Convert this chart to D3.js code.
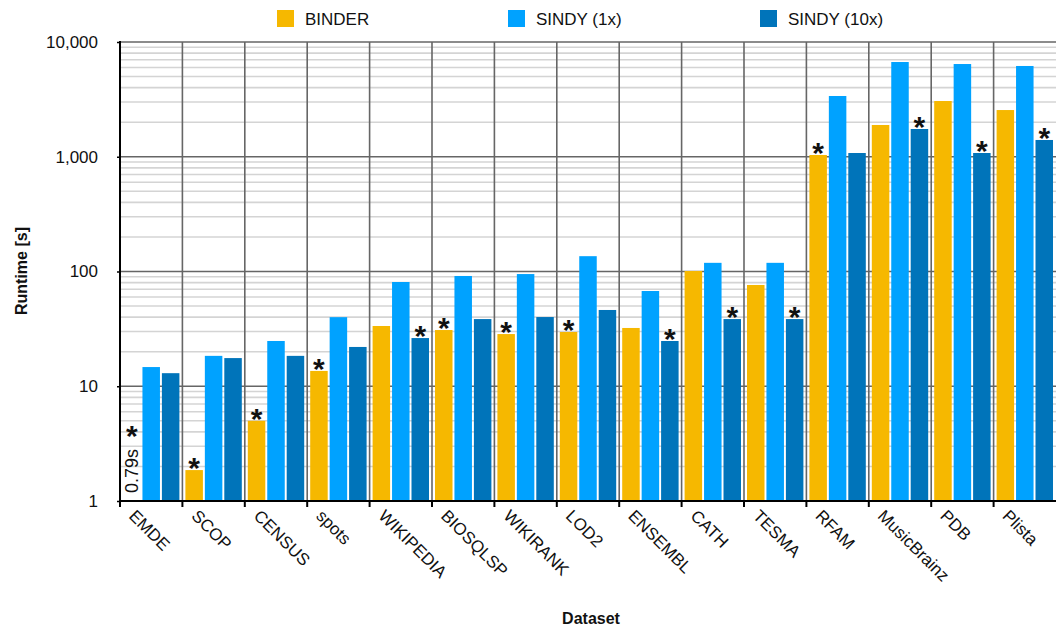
<!DOCTYPE html>
<html>
<head>
<meta charset="utf-8">
<script src="https://cdn.jsdelivr.net/npm/d3@7/dist/d3.min.js"></script>
<style>
  html, body { margin: 0; padding: 0; background: #fff; }
  svg { display: block; font-family: "Liberation Sans", Arial, Helvetica, sans-serif; }
</style>
</head>
<body>
<svg id="chart" width="1056" height="626"></svg>
<script>
// Runtime per dataset (seconds)
const categories = ["EMDE", "SCOP", "CENSUS", "spots", "WIKIPEDIA", "BIOSQLSP", "WIKIRANK",
  "LOD2", "ENSEMBL", "CATH", "TESMA", "RFAM", "MusicBrainz", "PDB", "Plista"];
const seriesNames = ["BINDER", "SINDY (1x)", "SINDY (10x)"];
const binder  = [0.79, 1.86, 5.0, 13.6, 33.5, 30.9, 28.5, 29.7, 32.2, 101, 76.3, 1036, 1891, 3060, 2553];
const sindy1  = [14.7, 18.4, 24.8, 40, 81, 91.4, 95, 136, 67.6, 119, 119, 3384, 6692, 6428, 6180];
const sindy10 = [13.0, 17.6, 18.4, 22.0, 26.3, 38.5, 40.1, 46.2, 24.8, 38.5, 38.5, 1078, 1745, 1078, 1400];
// index of the series marked with an asterisk in each group
const starred = [0, 0, 0, 0, 2, 0, 0, 0, 2, 2, 2, 0, 2, 2, 2];
const yTicks = [1, 10, 100, 1000, 10000];

const colors = ["#F6B800", "#00A2FF", "#0074BA"];
const values = [binder, sindy1, sindy10];

const svg = d3.select("#chart");
const m = { left: 120, right: 1056, top: 42, bottom: 501 };

const x = d3.scaleBand().domain(categories).range([m.left, m.right]).paddingInner(0).paddingOuter(0);
const xs = d3.scaleBand().domain(seriesNames).range([3, x.bandwidth() - 3]).paddingInner(0.1);
const y = d3.scaleLog().domain([1, 10000]).range([m.bottom, m.top]);

// minor gridlines
const minor = [];
for (let d = 1; d < 10000; d *= 10) for (let k = 2; k <= 9; k++) minor.push(d * k);
svg.append("g").selectAll("line").data(minor).join("line")
  .attr("x1", m.left).attr("x2", m.right)
  .attr("y1", d => y(d)).attr("y2", d => y(d))
  .attr("stroke", "#d4d4d4").attr("stroke-width", 1.6);

// major gridlines
svg.append("g").selectAll("line").data(yTicks.slice(1)).join("line")
  .attr("x1", m.left).attr("x2", m.right)
  .attr("y1", d => y(d)).attr("y2", d => y(d))
  .attr("stroke", "#666").attr("stroke-width", 1.6);

// vertical separators between datasets
svg.append("g").selectAll("line").data(categories.slice(1)).join("line")
  .attr("x1", d => x(d)).attr("x2", d => x(d))
  .attr("y1", m.top).attr("y2", m.bottom)
  .attr("stroke", "#666").attr("stroke-width", 1.6);

// bars
const groups = svg.append("g").selectAll("g").data(categories).join("g")
  .attr("transform", d => `translate(${x(d)},0)`);
groups.selectAll("rect")
  .data((c, i) => seriesNames.map((s, j) => ({ s, j, v: values[j][i] })))
  .join("rect")
  .attr("x", d => xs(d.s))
  .attr("width", xs.bandwidth())
  .attr("y", d => y(Math.max(d.v, 1)))
  .attr("height", d => m.bottom - y(Math.max(d.v, 1)))
  .attr("fill", d => colors[d.j]);

// asterisks; values below the axis range are written inside the plot
groups.each(function (c, i) {
  const g = d3.select(this);
  let topY;
  const j = starred[i];
  const v = values[j][i];
  const cx = xs(seriesNames[j]) + xs.bandwidth() / 2;
  if (v < 1) {
    g.append("text")
      .attr("transform", `translate(${cx + 6},${m.bottom - 8}) rotate(-90)`)
      .attr("font-size", 18).attr("fill", "#111")
      .text(v + "s");
    topY = 438;
  } else {
    topY = y(v);
  }
  g.append("text")
    .attr("x", cx).attr("y", topY + 8)
    .attr("text-anchor", "middle")
    .attr("font-size", 30).attr("font-weight", "bold").attr("fill", "#111")
    .text("*");
});

// axes
svg.append("line").attr("x1", m.left).attr("x2", m.right).attr("y1", m.bottom).attr("y2", m.bottom)
  .attr("stroke", "#000").attr("stroke-width", 2);
svg.append("line").attr("x1", m.left).attr("x2", m.left).attr("y1", m.top - 1).attr("y2", m.bottom + 1)
  .attr("stroke", "#000").attr("stroke-width", 2);

const xAxis = d3.axisBottom(x).tickSize(6).tickFormat("");
const xg = svg.append("g").attr("transform", `translate(0,${m.bottom})`).call(xAxis);
xg.select(".domain").remove();
xg.selectAll(".tick line").attr("stroke", "#000").attr("stroke-width", 2)
  .attr("transform", `translate(${-x.bandwidth() / 2},0)`);

// x labels, rotated
svg.append("g").selectAll("text").data(categories).join("text")
  .attr("transform", d => `translate(${x(d) + 8},${m.bottom + 16}) rotate(45)`)
  .attr("font-size", 17).attr("fill", "#111")
  .text(d => d);

const yAxis = d3.axisLeft(y).tickValues(yTicks).tickSize(3).tickPadding(19)
  .tickFormat(d3.format(","));
const yg = svg.append("g").attr("transform", `translate(${m.left},0)`).call(yAxis);
yg.select(".domain").remove();
yg.selectAll(".tick line").attr("stroke", "#000").attr("stroke-width", 1.5);
yg.selectAll(".tick text").attr("font-size", 17).attr("fill", "#111")
  .attr("font-family", "\"Liberation Sans\", Arial, Helvetica, sans-serif");

// axis titles
svg.append("text").attr("transform", `translate(27,271) rotate(-90)`)
  .attr("text-anchor", "middle").attr("font-size", 16).attr("font-weight", "bold").attr("fill", "#111")
  .text("Runtime [s]");
svg.append("text").attr("x", 591).attr("y", 624)
  .attr("text-anchor", "middle").attr("font-size", 16).attr("font-weight", "bold").attr("fill", "#111")
  .text("Dataset");

// legend
const legendX = [277, 508, 760];
const lg = svg.append("g").selectAll("g").data(seriesNames).join("g")
  .attr("transform", (d, i) => `translate(${legendX[i]},10)`);
lg.append("rect").attr("width", 17).attr("height", 17).attr("fill", (d, i) => colors[i]);
lg.append("text").attr("x", 28).attr("y", 15).attr("font-size", 17).attr("fill", "#111").text(d => d);
</script>
</body>
</html>
